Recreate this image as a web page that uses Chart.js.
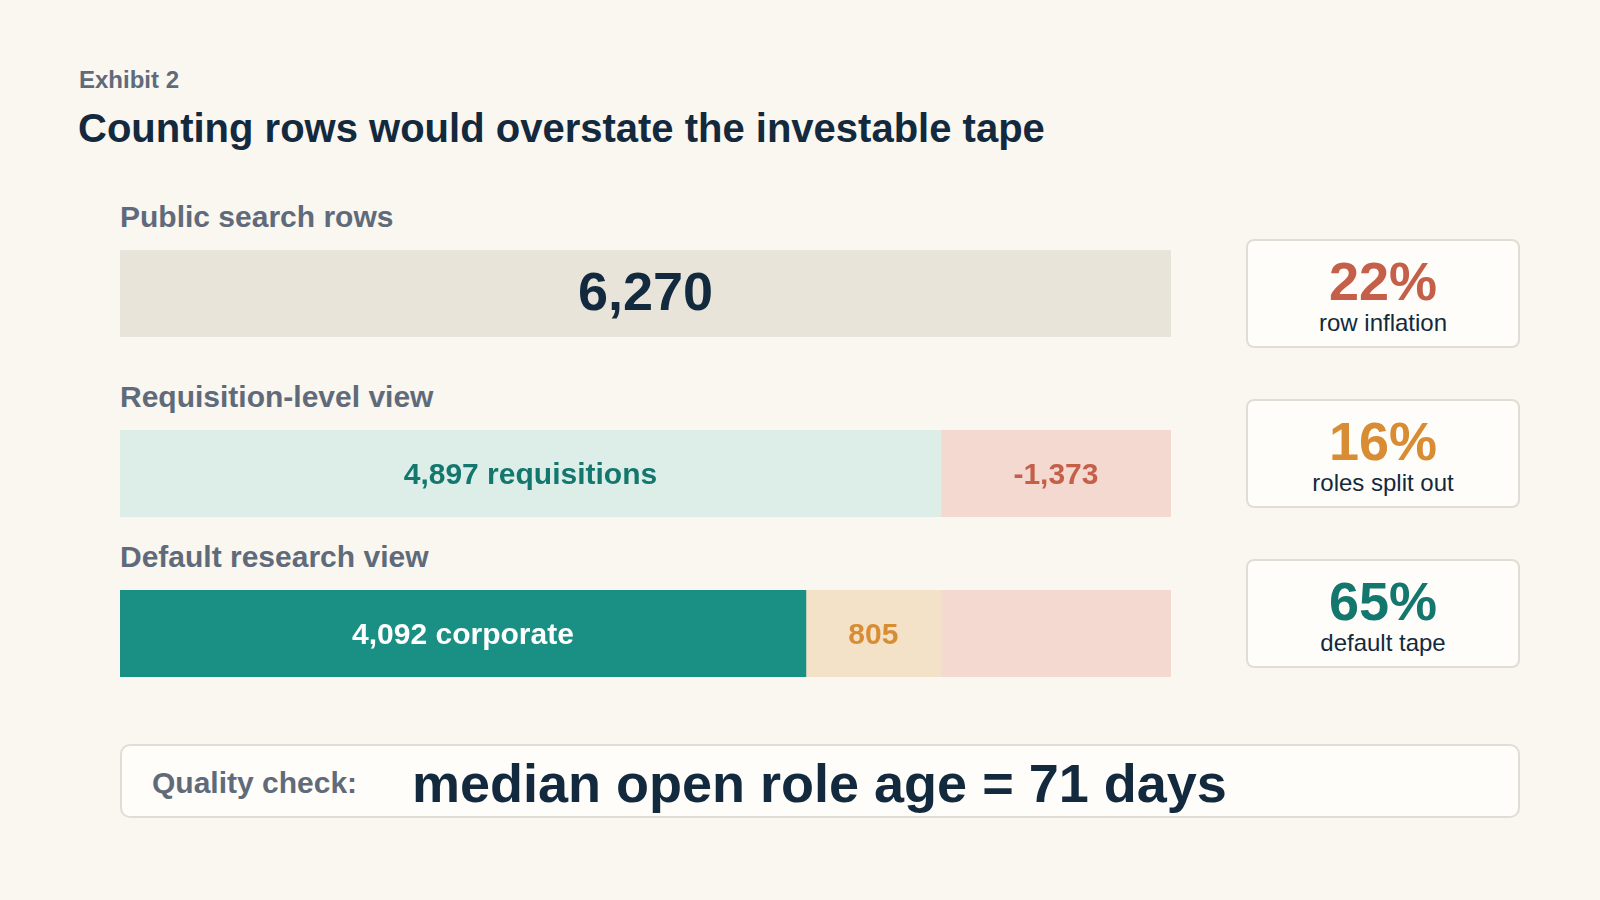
<!DOCTYPE html>
<html>
<head>
<meta charset="utf-8">
<script src="https://cdn.jsdelivr.net/npm/chart.js@4"></script>
<style>
  body { margin:0; width:1600px; height:900px; background:#faf6f0; font-family:"Liberation Sans", Arial, sans-serif; position:relative; overflow:hidden; }
  .abs { position:absolute; }
  .exhibit { left:79px; top:66px; font-size:24px; font-weight:bold; color:#5f6b7a; }
  .title { left:78px; top:106px; font-size:40px; font-weight:bold; color:#13293d; }
  .rowlab { left:120px; font-size:30px; font-weight:bold; color:#5f6b7a; }
  .bar { left:120px; width:1051px; height:87px; }
  .card { left:1246px; width:270px; height:105px; background:#fffdf9; border:2px solid #e2ddd4; border-radius:8px; text-align:center; }
  .card .pct { font-size:54px; font-weight:bold; line-height:56px; margin-top:12px; }
  .card .sub { font-size:24px; color:#13293d; }
  .quality { left:120px; top:744px; width:1396px; height:70px; background:#fffdf9; border:2px solid #e2ddd4; border-radius:10px; }
  .quality .lab { position:absolute; left:30px; top:20px; font-size:30px; font-weight:bold; color:#5f6b7a; }
  .quality .big { position:absolute; left:290px; top:6px; font-size:54px; font-weight:bold; color:#13293d; }
</style>
</head>
<body>
<div class="abs exhibit">Exhibit 2</div>
<div class="abs title">Counting rows would overstate the investable tape</div>

<div class="abs rowlab" style="top:200px">Public search rows</div>
<div class="abs bar" style="top:250px"><canvas id="c0"></canvas></div>
<div class="abs rowlab" style="top:380px">Requisition-level view</div>
<div class="abs bar" style="top:430px"><canvas id="c1"></canvas></div>
<div class="abs rowlab" style="top:540px">Default research view</div>
<div class="abs bar" style="top:590px"><canvas id="c2"></canvas></div>

<div class="abs card" style="top:239px"><div class="pct" style="color:#c4604a">22%</div><div class="sub">row inflation</div></div>
<div class="abs card" style="top:399px"><div class="pct" style="color:#d88d34">16%</div><div class="sub">roles split out</div></div>
<div class="abs card" style="top:559px"><div class="pct" style="color:#14776e">65%</div><div class="sub">default tape</div></div>

<div class="abs quality"><div class="lab">Quality check:</div><div class="big">median open role age = 71 days</div></div>

<script>
// ===== Data =====
const rowNames = ['Public search rows', 'Requisition-level view', 'Default research view'];
const mainValues = [6270, 4897, 4092];
const staffingValues = [0, 0, 805];
const removedValues = [0, 1373, 1373];
const mainLabels = ['6,270', '4,897 requisitions', '4,092 corporate'];
const staffingLabels = ['', '', '805'];
const removedLabels = ['', '-1,373', ''];
const totalRows = 6270;

// ===== Styles per row =====
const mainColors = ['#e9e4da', '#ddeee9', '#1a8f84'];
const mainText = [{ c: '#13293d', s: 54 }, { c: '#14776e', s: 30 }, { c: '#ffffff', s: 30 }];

const segLabels = {
  id: 'segLabels',
  afterDatasetsDraw(chart, args, opts) {
    const ctx = chart.ctx;
    chart.data.datasets.forEach((ds, i) => {
      const bar = chart.getDatasetMeta(i).data[0];
      if (!ds.label_text || !bar || ds.data[0] === 0) return;
      ctx.save();
      ctx.font = 'bold ' + ds.text_size + 'px "Liberation Sans", Arial, sans-serif';
      ctx.fillStyle = ds.text_color;
      ctx.textAlign = 'center';
      ctx.textBaseline = 'middle';
      ctx.fillText(ds.label_text, (bar.base + bar.x) / 2, bar.y + 2);
      ctx.restore();
    });
  }
};

rowNames.forEach((name, r) => {
  new Chart(document.getElementById('c' + r), {
    type: 'bar',
    data: {
      labels: [name],
      datasets: [
        { data: [mainValues[r]], backgroundColor: mainColors[r], label_text: mainLabels[r], text_color: mainText[r].c, text_size: mainText[r].s },
        { data: [staffingValues[r]], backgroundColor: '#f3e1c8', label_text: staffingLabels[r], text_color: '#d88d34', text_size: 30 },
        { data: [removedValues[r]], backgroundColor: '#f3d9d0', label_text: removedLabels[r], text_color: '#c4604a', text_size: 30 }
      ]
    },
    options: {
      indexAxis: 'y',
      responsive: true,
      maintainAspectRatio: false,
      animation: false,
      layout: { padding: 0 },
      plugins: { legend: { display: false }, tooltip: { enabled: false } },
      datasets: { bar: { barPercentage: 1, categoryPercentage: 1, borderWidth: 0 } },
      scales: {
        x: { stacked: true, min: 0, max: totalRows, display: false },
        y: { stacked: true, display: false }
      }
    },
    plugins: [segLabels]
  });
});
</script>
</body>
</html>
